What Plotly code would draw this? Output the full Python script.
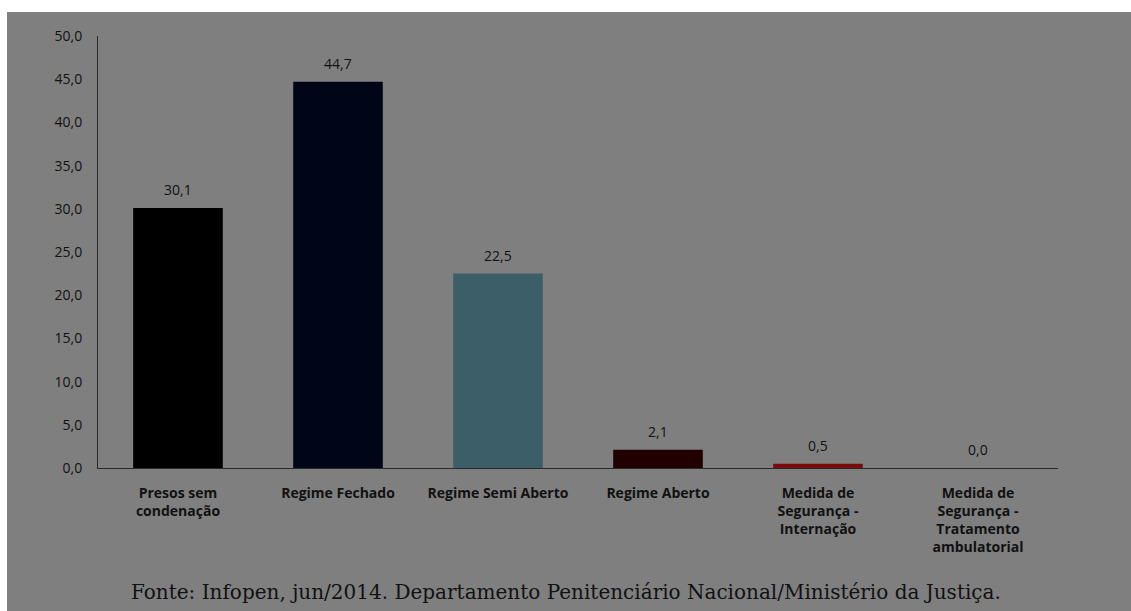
import plotly.graph_objects as go

categories = ["Presos sem<br>condenação", "Regime Fechado", "Regime Semi Aberto",
              "Regime Aberto", "Medida de<br>Segurança -<br>Internação",
              "Medida de<br>Segurança -<br>Tratamento<br>ambulatorial"]
values = [30.1, 44.7, 22.5, 2.1, 0.5, 0.0]
value_labels = ["30,1", "44,7", "22,5", "2,1", "0,5", "0,0"]
bar_colors = ["#000000", "#000618", "#3b5e69", "#200000", "#7a0c0c", "#7f7f7f"]
y_ticks = [0, 5, 10, 15, 20, 25, 30, 35, 40, 45, 50]
source_text = "Fonte: Infopen, jun/2014. Departamento Penitenciário Nacional/Ministério da Justiça."

W, H = 1131, 611
L, R, T, B = 98, 73, 36, 143
pw, ph = W - L - R, H - T - B

fig = go.Figure()
fig.add_trace(go.Bar(x=categories, y=values, marker=dict(color=bar_colors, line=dict(width=0)),
                     hoverinfo="skip"))

for c, v, t in zip(categories, values, value_labels):
    fig.add_annotation(x=c, y=v, text=t, showarrow=False, yanchor="bottom", yshift=7,
                       font=dict(family="Open Sans, Lato, sans-serif", size=14, color="#111111"))

fig.add_annotation(xref="paper", yref="paper", x=(566 - L) / pw, y=(H - B - 592) / ph,
                   text=source_text, showarrow=False, xanchor="center", yanchor="middle",
                   font=dict(family="DejaVu Serif, Liberation Serif, serif", size=20, color="#111111"))

# gray panel with white strip top/left
fig.add_shape(type="rect", xref="paper", yref="paper", layer="below",
              x0=(7 - L) / pw, x1=(W + 5 - L) / pw, y0=(H - B - (H + 5)) / ph, y1=(H - B - 12) / ph,
              fillcolor="#7f7f7f", line=dict(width=0))

fig.update_layout(
    width=W, height=H,
    margin=dict(l=L, r=R, t=T, b=B, pad=0),
    paper_bgcolor="#ffffff", plot_bgcolor="rgba(0,0,0,0)",
    bargap=0.44, showlegend=False, separators=",.",
    font=dict(family="Open Sans, Lato, sans-serif", color="#111111"),
)
fig.update_yaxes(range=[0, 50], tickvals=y_ticks, tickformat=".1f", showgrid=False,
                 showline=True, linecolor="#2a2a2a", linewidth=1, zeroline=False,
                 ticks="outside", ticklen=4, tickcolor="rgba(0,0,0,0)", ticklabelstandoff=8,
                 tickfont=dict(family="Open Sans, Lato, sans-serif", size=14, color="#111111"))
fig.update_xaxes(showline=True, linecolor="#2a2a2a", linewidth=1, showgrid=False,
                 ticks="outside", ticklen=12, tickcolor="rgba(0,0,0,0)",
                 tickfont=dict(family="Open Sans, Lato, sans-serif", size=14, color="#111111",
                               weight="bold"),
                 tickangle=0)

fig.write_html("out.html")
